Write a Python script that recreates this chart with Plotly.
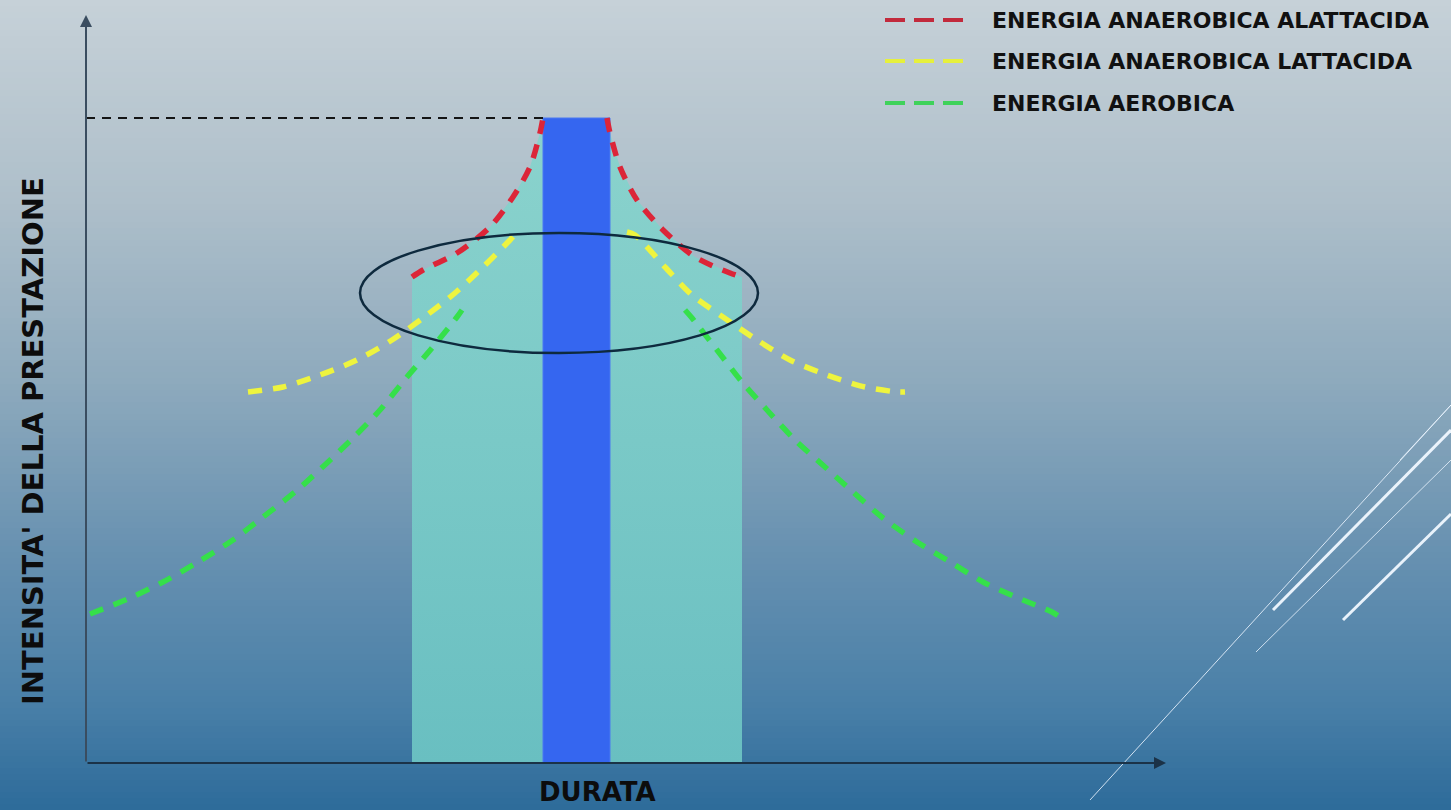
import plotly.graph_objects as go

# ---------------- data (x = durata units, y = intensità units) ----------------
red_left_x = [326, 337, 371, 404, 427, 444, 454, 457]
red_left_y = [486, 493, 510, 536, 566, 596, 630, 645]
red_right_x = [521, 524, 534, 551, 577, 609, 644, 656]
red_right_y = [645, 630, 596, 563, 533, 506, 490, 486]

yel_left_x = [162, 197, 234, 271, 306, 337, 369, 397, 424, 431]
yel_left_y = [371, 376, 388, 403, 423, 445, 470, 496, 523, 531]
yel_right_x = [541, 549, 579, 606, 637, 671, 704, 741, 779, 812, 819]
yel_right_y = [531, 528, 496, 468, 446, 423, 403, 388, 376, 371, 371]

grn_left_x = [4, 44, 77, 112, 147, 177, 209, 241, 267, 294, 321, 346, 371, 376]
grn_left_y = [149, 165, 181, 201, 223, 246, 271, 300, 325, 353, 386, 415, 446, 453]
grn_right_x = [599, 606, 631, 656, 681, 709, 739, 767, 797, 831, 864, 897, 932, 966, 974]
grn_right_y = [453, 445, 413, 381, 353, 323, 296, 271, 245, 221, 201, 181, 165, 151, 146]

bar_center = 490.5
bar_width = 67
peak = 645
zone_left = 326
zone_right = 656

legend_names = ["ENERGIA ANAEROBICA ALATTACIDA", "ENERGIA ANAEROBICA LATTACIDA", "ENERGIA AEROBICA"]
legend_colors = ["#c22a3c", "#e6f03c", "#3fd25a"]
legend_y = [743, 702, 660]

x_title = "DURATA"
y_title = "INTENSITA' DELLA PRESTAZIONE"

W, H = 1451, 810
X_RANGE = [-86, 1365]
Y_RANGE = [-47, 763]
FONT = "DejaVu Sans"

fig = go.Figure()

# teal zone following the red curves
zone_x = [zone_left] + red_left_x + red_right_x + [zone_right]
zone_y = [0] + red_left_y + red_right_y + [0]
fig.add_trace(go.Scatter(
    x=zone_x, y=zone_y, fill="toself", mode="lines",
    line=dict(width=0, color="rgba(0,0,0,0)"),
    fillgradient=dict(type="vertical", colorscale=[[0, "#69bfc1"], [1, "#8bd3cd"]]),
    hoverinfo="skip", showlegend=False))

# blue bar (rectangle from centre/width)
bl, br = bar_center - bar_width / 2, bar_center + bar_width / 2
fig.add_trace(go.Scatter(x=[bl, bl, br, br, bl], y=[0, peak, peak, 0, 0], fill="toself",
                         mode="lines", fillcolor="#3566f0",
                         line=dict(width=1, color="#4a78f2"),
                         hoverinfo="skip", showlegend=False))

# black dashed reference line at peak
fig.add_trace(go.Scatter(x=[0, bl], y=[peak, peak], mode="lines",
                         line=dict(color="#141414", width=2, dash="9px,7px"),
                         hoverinfo="skip", showlegend=False))

def curve(xs, ys, color):
    fig.add_trace(go.Scatter(x=xs, y=ys, mode="lines",
                             line=dict(color=color, width=5.5, dash="14px,11px", shape="spline",
                                       smoothing=0.8),
                             hoverinfo="skip", showlegend=False))

curve(grn_left_x, grn_left_y, "#35e04a")
curve(grn_right_x, grn_right_y, "#35e04a")
curve(yel_left_x, yel_left_y, "#eef43e")
curve(yel_right_x, yel_right_y, "#eef43e")
curve(red_left_x, red_left_y, "#dc2538")
curve(red_right_x, red_right_y, "#dc2538")

# manual legend
for name, col, ly in zip(legend_names, legend_colors, legend_y):
    fig.add_trace(go.Scatter(x=[799, 879], y=[ly, ly], mode="lines",
                             line=dict(color=col, width=4, dash="20px,9px"),
                             hoverinfo="skip", showlegend=False))
    fig.add_annotation(x=904, y=ly, text=name, showarrow=False, xanchor="left", yanchor="middle",
                       font=dict(family=FONT, size=22, color="#111111", weight="bold"))

# ---------------- background gradient ----------------
stops = [(0, (0xc6, 0xd1, 0xd8)), (200, (0xae, 0xbf, 0xca)), (380, (0x8e, 0xaa, 0xbd)),
         (560, (0x66, 0x90, 0xb0)), (700, (0x4a, 0x80, 0xa8)), (810, (0x2d, 0x6b, 0x9a))]

def col_at(py):
    for (a, ca), (b, cb) in zip(stops[:-1], stops[1:]):
        if a <= py <= b:
            t = (py - a) / (b - a)
            return "rgb(%d,%d,%d)" % tuple(round(ca[i] + (cb[i] - ca[i]) * t) for i in range(3))
    return "rgb(45,107,154)"

shapes = []
band = 6
for py in range(0, H, band):
    shapes.append(dict(type="rect", xref="paper", yref="paper", x0=0, x1=1,
                       y0=1 - (py + band + 1) / H, y1=1 - py / H,
                       fillcolor=col_at(py + band / 2), line=dict(width=0), layer="below"))

# decorative lines (pixel-space converted to data coords)
def px(xp, yp):
    return xp - 86, 763 - yp

for (x0, y0, x1, y1, w, c) in [
    (1090, 800, 1451, 405, 1, "rgba(235,245,255,0.85)"),
    (1273, 610, 1451, 430, 3, "rgba(240,248,255,0.95)"),
    (1256, 652, 1451, 460, 1, "rgba(235,245,255,0.8)"),
    (1343, 620, 1451, 514, 3, "rgba(240,248,255,0.95)"),
    (1400, 460, 1451, 405, 1, "rgba(235,245,255,0.8)"),
]:
    a, b = px(x0, y0)
    c2, d = px(x1, y1)
    shapes.append(dict(type="line", xref="x", yref="y", x0=a, y0=b, x1=c2, y1=d,
                       line=dict(color=c, width=w), layer="above"))

# ellipse
shapes.append(dict(type="circle", xref="x", yref="y", x0=274, x1=672, y0=410, y1=530,
                   line=dict(color="#0e2a3e", width=2.5), layer="above"))

fig.update_layout(shapes=shapes)

# axes with arrows
fig.add_annotation(x=1080, y=0, ax=0, ay=0, xref="x", yref="y", axref="x", ayref="y",
                   showarrow=True, arrowhead=2, arrowsize=1.2, arrowwidth=2, arrowcolor="#1b3247", text="")
fig.add_annotation(x=0, y=748, ax=0, ay=0, xref="x", yref="y", axref="x", ayref="y",
                   showarrow=True, arrowhead=2, arrowsize=1.2, arrowwidth=2, arrowcolor="#3a4d60", text="")

# axis titles
fig.add_annotation(x=511, y=-29, text=x_title, showarrow=False, xanchor="center", yanchor="middle",
                   borderpad=0,
                   font=dict(family=FONT, size=26, color="#0c0c0c", weight="bold"))
fig.add_annotation(x=-53, y=322, text=y_title, showarrow=False, textangle=-90,
                   xanchor="center", yanchor="middle",
                   font=dict(family=FONT, size=29, color="#0c0c0c", weight="bold"))

fig.update_layout(
    width=W, height=H, margin=dict(l=0, r=0, t=0, b=0),
    paper_bgcolor="#2d6b9a", plot_bgcolor="rgba(0,0,0,0)",
    xaxis=dict(range=X_RANGE, visible=False, fixedrange=True),
    yaxis=dict(range=Y_RANGE, visible=False, fixedrange=True),
    showlegend=False,
)

fig.write_html("out.html")
